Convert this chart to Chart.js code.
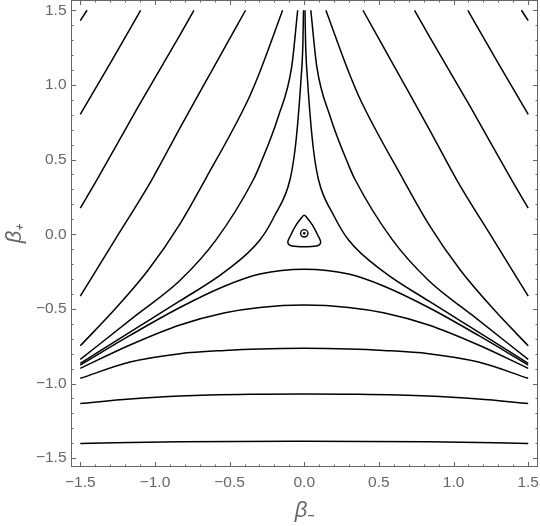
<!DOCTYPE html>
<html>
<head>
<meta charset="utf-8">
<script src="https://cdn.jsdelivr.net/npm/chart.js@4.4.1/dist/chart.umd.min.js"></script>
<style>
  html, body { margin: 0; padding: 0; background: #fff; }
  #wrap { width: 540px; height: 526px; }
</style>
</head>
<body>
<div id="wrap"><canvas id="myChart" width="540" height="526"></canvas></div>
<script>
// major tick positions (same on both axes)
const majorTicks = [-1.5, -1.0, -0.5, 0.0, 0.5, 1.0, 1.5];

// contour lines, points are [beta_minus, beta_plus]
// arms running from the lower left up into the top channel
const leftArm1 = [[-1.5, 1.43], [-1.455, 1.5]];
const leftArm2 = [[-1.5, 0.803], [-1.297, 1.149], [-1.096, 1.5]];
const leftArm3 = [[-1.5, 0.175], [-1.39, 0.363], [-1.112, 0.854], [-0.833, 1.334], [-0.739, 1.5]];
const leftArm4 = [[-1.5, -0.414], [-1.268, -0.038], [-1.022, 0.363], [-0.833, 0.711], [-0.614, 1.104], [-0.393, 1.5]];
const leftArm5 = [[-1.5, -0.747], [-1.275, -0.51], [-1.045, -0.24], [-0.833, 0.068], [-0.665, 0.363], [-0.377, 0.899], [-0.297, 1.088], [-0.145, 1.5]];
const leftArm6 = [[-1.5, -0.838], [-1.121, -0.539], [-0.833, -0.31], [-0.587, -0.033], [-0.342, 0.363], [-0.297, 0.463], [-0.174, 0.787], [-0.084, 1.122], [-0.044, 1.5]];
const leftArm7 = [[-1.5, -0.865], [-1.167, -0.655], [-0.833, -0.447], [-0.531, -0.251], [-0.297, -0.039], [-0.196, 0.129], [-0.096, 0.363], [-0.062, 0.564], [-0.042, 0.765], [-0.022, 1.033], [-0.009, 1.281], [-0.005, 1.5]];

// arms running from the top channel down to the lower right
const rightArm1 = [[1.455, 1.5], [1.5, 1.43]];
const rightArm2 = [[1.096, 1.5], [1.297, 1.149], [1.5, 0.803]];
const rightArm3 = [[0.739, 1.5], [0.833, 1.334], [1.112, 0.854], [1.39, 0.363], [1.5, 0.175]];
const rightArm4 = [[0.393, 1.5], [0.614, 1.104], [0.833, 0.711], [1.022, 0.363], [1.268, -0.038], [1.5, -0.414]];
const rightArm5 = [[0.145, 1.5], [0.297, 1.088], [0.377, 0.899], [0.665, 0.363], [0.833, 0.068], [1.045, -0.24], [1.275, -0.51], [1.5, -0.747]];
const rightArm6 = [[0.044, 1.5], [0.084, 1.122], [0.174, 0.787], [0.297, 0.463], [0.342, 0.363], [0.587, -0.033], [0.833, -0.31], [1.121, -0.539], [1.5, -0.838]];
const rightArm7 = [[0.005, 1.5], [0.009, 1.281], [0.022, 1.033], [0.042, 0.765], [0.062, 0.564], [0.096, 0.363], [0.196, 0.129], [0.297, -0.039], [0.531, -0.251], [0.833, -0.447], [1.167, -0.655], [1.5, -0.865]];

// humps across the bottom
const lowerArm1 = [[-1.5, -0.876], [-1.167, -0.678], [-0.833, -0.491], [-0.531, -0.347], [-0.297, -0.267], [0, -0.235], [0.297, -0.267], [0.531, -0.347], [0.833, -0.491], [1.167, -0.678], [1.5, -0.876]];
const lowerArm2 = [[-1.5, -0.898], [-1.167, -0.742], [-0.833, -0.608], [-0.531, -0.526], [-0.297, -0.49], [0, -0.474], [0.297, -0.49], [0.531, -0.526], [0.833, -0.608], [1.167, -0.742], [1.5, -0.898]];
const lowerArm3 = [[-1.5, -0.965], [-1.167, -0.856], [-0.833, -0.8], [-0.531, -0.778], [-0.297, -0.768], [0, -0.764], [0.297, -0.768], [0.531, -0.778], [0.833, -0.8], [1.167, -0.856], [1.5, -0.965]];
const lowerArm4 = [[-1.5, -1.133], [-1.167, -1.104], [-0.833, -1.084], [-0.364, -1.072], [0, -1.07], [0.364, -1.072], [0.833, -1.084], [1.167, -1.104], [1.5, -1.133]];
const lowerArm5 = [[-1.5, -1.401], [-0.833, -1.39], [0, -1.387], [0.833, -1.39], [1.5, -1.401]];

// closed loop round the minimum, and the minimum itself
const innerLoop = [[0, -0.084], [0.067, -0.081], [0.1, -0.072], [0.11, -0.05], [0.09, -0.005], [0.054, 0.062], [0.013, 0.117], [0, 0.127], [-0.013, 0.117], [-0.054, 0.062], [-0.09, -0.005], [-0.11, -0.05], [-0.1, -0.072], [-0.067, -0.081], [0, -0.084]];
const centre = [0, 0.006];

const openLines = [
  leftArm1, leftArm2, leftArm3, leftArm4, leftArm5, leftArm6, leftArm7,
  rightArm1, rightArm2, rightArm3, rightArm4, rightArm5, rightArm6, rightArm7,
  lowerArm1, lowerArm2, lowerArm3, lowerArm4, lowerArm5
];

const grey = '#666';
const tickFont = { family: 'Liberation Sans, Arial, sans-serif', size: 15.5 };
const titleFont = { family: 'Liberation Sans, Arial, sans-serif', size: 22, style: 'italic' };
const fmt = v => v.toFixed(1).replace('-', '\u2212');

// frame round the plot with inward ticks on all four sides
const frameTicks = {
  id: 'frameTicks',
  afterDraw(chart) {
    const { ctx, chartArea, scales } = chart;
    const { left, right, top, bottom } = chartArea;
    ctx.save();
    ctx.strokeStyle = grey;
    ctx.lineWidth = 1;
    ctx.strokeRect(left + 0.5, top + 0.5, right - left - 1, bottom - top - 1);
    ctx.beginPath();
    const tick = (v, len) => {
      const px = Math.round(scales.x.getPixelForValue(v)) + 0.5;
      const py = Math.round(scales.y.getPixelForValue(v)) + 0.5;
      ctx.moveTo(px, bottom); ctx.lineTo(px, bottom - len);
      ctx.moveTo(px, top); ctx.lineTo(px, top + len);
      ctx.moveTo(left, py); ctx.lineTo(left + len, py);
      ctx.moveTo(right, py); ctx.lineTo(right - len, py);
    };
    majorTicks.forEach(v => tick(v, 5));
    for (let k = -15; k <= 15; k++) {
      if (k % 5 !== 0) tick(k / 10, 2.5);
    }
    ctx.stroke();
    ctx.restore();
  }
};

const lineStyle = {
  showLine: true,
  borderColor: '#000',
  borderWidth: 1.5,
  pointRadius: 0,
  fill: false
};

const datasets = openLines.map(pts => Object.assign({
  data: pts.map(p => ({ x: p[0], y: p[1] })),
  cubicInterpolationMode: 'monotone'
}, lineStyle));
datasets.push(Object.assign({
  data: innerLoop.map(p => ({ x: p[0], y: p[1] })),
  tension: 0.4
}, lineStyle));
datasets.push({
  data: [{ x: centre[0], y: centre[1] }],
  pointRadius: 3.7,
  pointBorderWidth: 1.4,
  pointBorderColor: '#000',
  pointBackgroundColor: 'rgba(0,0,0,0)'
});
datasets.push({
  data: [{ x: centre[0], y: centre[1] }],
  pointRadius: 1.3,
  pointBorderWidth: 0,
  pointBackgroundColor: '#000'
});

const ctx = document.getElementById('myChart').getContext('2d');
const myChart = new Chart(ctx, {
  type: 'scatter',
  data: { datasets: datasets },
  options: {
    responsive: false,
    animation: false,
    events: [],
    layout: { autoPadding: false, padding: { left: 0, top: 0, right: 2, bottom: 0 } },
    plugins: { legend: { display: false }, tooltip: { enabled: false } },
    scales: {
      x: {
        type: 'linear',
        min: -1.5623,
        max: 1.5657,
        afterFit(s) { s.height = 59; s.paddingLeft = 0; s.paddingRight = 0; },
        grid: { display: false, drawTicks: false },
        border: { display: false },
        ticks: {
          stepSize: 0.5, includeBounds: false, autoSkip: false,
          maxRotation: 0, minRotation: 0, padding: 6,
          color: grey, font: tickFont, callback: v => fmt(v)
        },
        title: { display: true, text: 'β₋', color: grey, font: titleFont, padding: { top: 0, bottom: 2 } }
      },
      y: {
        type: 'linear',
        min: -1.559,
        max: 1.5687,
        afterFit(s) { s.width = 71; s.paddingTop = 0; s.paddingBottom = 0; },
        grid: { display: false, drawTicks: false },
        border: { display: false },
        ticks: {
          stepSize: 0.5, includeBounds: false, autoSkip: false, padding: 4.5,
          color: grey, font: tickFont, callback: v => fmt(v)
        },
        title: { display: true, text: 'β₊', color: grey, font: titleFont, padding: { top: 2, bottom: 0 } }
      }
    }
  },
  plugins: [frameTicks]
});
</script>
</body>
</html>
